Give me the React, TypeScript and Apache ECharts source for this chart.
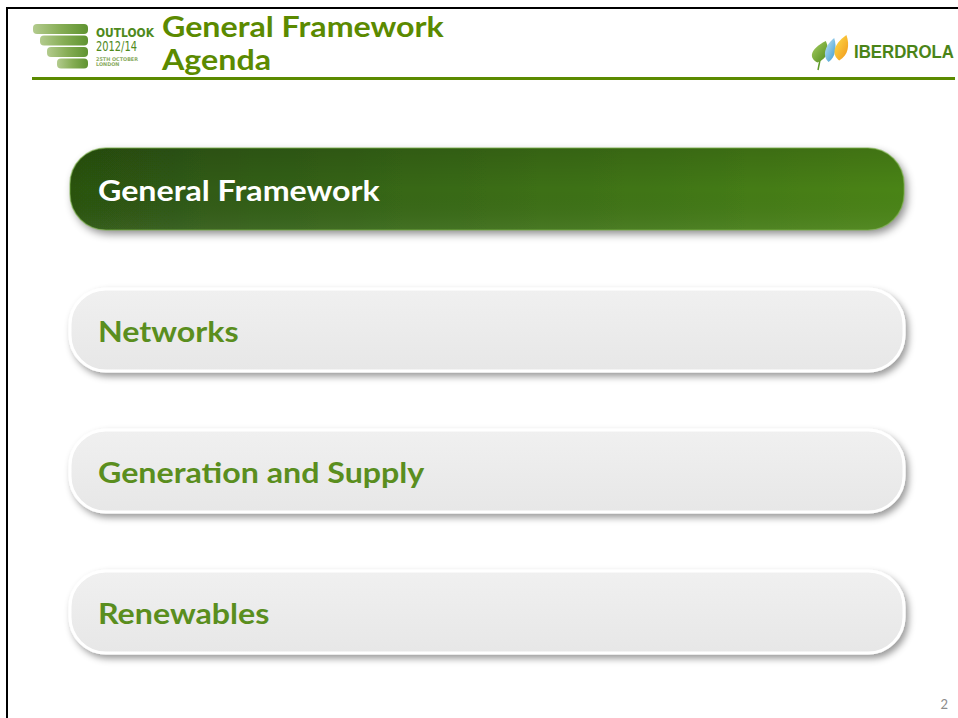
import React, { useEffect, useRef } from "react";
import * as echarts from "echarts";

const titleLines = ["General Framework", "Agenda"];
const agendaItems = ["General Framework", "Networks", "Generation and Supply", "Renewables"];
const activeIndex = 0;
const brandName = "IBERDROLA";
const eventLines = ["OUTLOOK", "2012/14"];
const eventDetails = ["25TH OCTOBER", "LONDON"];
const pageNumber = "2";

const W = 958;
const H = 718;
const MAIN_FONT = "Lato";
const NARROW = "'DejaVu Sans Condensed', 'Liberation Sans', sans-serif";

function measure(text: string, font: string): number {
  const ctx = document.createElement("canvas").getContext("2d");
  if (!ctx) return 1;
  ctx.font = font;
  return ctx.measureText(text).width || 1;
}

function fitScale(text: string, weight: string, size: number, family: string, target: number) {
  return target / measure(text, `${weight} ${size}px ${family}`);
}

echarts.graphic.registerShape(
  "leaf",
  echarts.graphic.extendPath("M8,30 C0,24 0,12 16,0 C20,12 18,24 8,30 Z", {})
);

function buildGraphics() {
  const els: any[] = [];
  const titleSize = 29;
  const mainScale = fitScale(titleLines[0], "bold", titleSize, MAIN_FONT, 282);

  // slide frame
  els.push({ type: "rect", shape: { x: 6, y: 7, width: W - 6, height: 2 }, style: { fill: "#000" } });
  els.push({ type: "rect", shape: { x: 6, y: 7, width: 2, height: H - 7 }, style: { fill: "#000" } });

  // header rule
  els.push({ type: "rect", shape: { x: 32, y: 77, width: 923, height: 3 }, style: { fill: "#5b8a00" } });

  // event logo stripes
  const stripes = [
    [33, 24],
    [40, 35.5],
    [47, 47],
    [57, 58.5],
  ];
  stripes.forEach(([sx, sy]) => {
    els.push({
      type: "rect",
      shape: { x: sx, y: sy, width: 88 - sx, height: 10, r: 4 },
      style: {
        fill: new echarts.graphic.LinearGradient(0, 0, 1, 0, [
          { offset: 0, color: "#b3cb8e" },
          { offset: 0.5, color: "#86ad55" },
          { offset: 1, color: "#5f9330" },
        ]),
      },
    });
  });
  els.push({
    type: "text",
    x: 96,
    y: 33,
    scaleX: fitScale(eventLines[0], "bold", 12, NARROW, 58),
    style: { text: eventLines[0], font: `bold 12px ${NARROW}`, fill: "#4f8a1c", verticalAlign: "middle" },
  });
  els.push({
    type: "text",
    x: 96,
    y: 45.5,
    scaleX: fitScale(eventLines[1], "normal", 14, NARROW, 41),
    style: { text: eventLines[1], font: `14px ${NARROW}`, fill: "#4f8a1c", verticalAlign: "middle" },
  });
  eventDetails.forEach((t, i) => {
    els.push({
      type: "text",
      x: 96,
      y: 59.5 + i * 5,
      scaleX: fitScale(eventDetails[0], "bold", 5, NARROW, 42),
      style: { text: t, font: `bold 5px ${NARROW}`, fill: "#8aab62", verticalAlign: "middle" },
    });
  });

  // title
  titleLines.forEach((t, i) => {
    els.push({
      type: "text",
      x: 162,
      y: 26 + i * 33,
      scaleX: mainScale,
      style: { text: t, font: `bold ${titleSize}px ${MAIN_FONT}`, fill: "#5b8a00", verticalAlign: "middle" },
    });
  });

  // brand logo
  els.push({ type: "line", shape: { x1: 820, y1: 60, x2: 818, y2: 70 }, style: { stroke: "#5f9a2a", lineWidth: 1.5 } });
  els.push({
    type: "leaf",
    x: 809,
    y: 41,
    scaleX: 1.05,
    scaleY: 0.72,
    style: {
      fill: new echarts.graphic.LinearGradient(0, 0, 1, 1, [
        { offset: 0, color: "#a9d063" },
        { offset: 1, color: "#4f8a1c" },
      ]),
    },
  });
  els.push({
    type: "leaf",
    x: 823,
    y: 38,
    scaleX: 0.7,
    scaleY: 0.8,
    style: {
      fill: new echarts.graphic.LinearGradient(0, 0, 1, 1, [
        { offset: 0, color: "#c4e6f6" },
        { offset: 1, color: "#3a9ad0" },
      ]),
    },
  });
  els.push({
    type: "leaf",
    x: 832,
    y: 35,
    scaleX: 0.9,
    scaleY: 0.85,
    style: {
      fill: new echarts.graphic.LinearGradient(0, 0, 1, 1, [
        { offset: 0, color: "#ffe04a" },
        { offset: 1, color: "#f0961a" },
      ]),
    },
  });
  els.push({
    type: "text",
    x: 854,
    y: 52,
    scaleX: fitScale(brandName, "bold", 18, "Liberation Sans", 100),
    style: { text: brandName, font: "bold 18px 'Liberation Sans'", fill: "#4a8418", verticalAlign: "middle" },
  });

  // agenda pills
  const px = 70;
  const pw = 834;
  const ph = 82;
  const r = 36;
  agendaItems.forEach((item, i) => {
    const py = 148 + i * 141;
    const active = i === activeIndex;
    if (active) {
      els.push({
        type: "rect",
        shape: { x: px, y: py, width: pw, height: ph, r },
        style: {
          fill: new echarts.graphic.LinearGradient(0, 0, 1, 0, [
            { offset: 0, color: "#2b5311" },
            { offset: 0.5, color: "#3a6c15" },
            { offset: 1, color: "#4a8418" },
          ]),
          shadowBlur: 8,
          shadowColor: "rgba(0,0,0,0.45)",
          shadowOffsetX: 3,
          shadowOffsetY: 4,
        },
      });
      els.push({
        type: "rect",
        shape: { x: px, y: py, width: pw, height: ph, r },
        style: {
          fill: new echarts.graphic.LinearGradient(0, 0, 0, 1, [
            { offset: 0, color: "rgba(0,0,0,0.12)" },
            { offset: 0.5, color: "rgba(0,0,0,0)" },
            { offset: 1, color: "rgba(255,255,255,0.06)" },
          ]),
          stroke: "rgba(120,175,70,0.55)",
          lineWidth: 1.5,
        },
      });
    } else {
      els.push({
        type: "rect",
        shape: { x: px, y: py, width: pw, height: ph, r },
        style: {
          fill: new echarts.graphic.LinearGradient(0, 0, 0, 1, [
            { offset: 0, color: "#f0f0f0" },
            { offset: 1, color: "#e7e7e7" },
          ]),
          stroke: "#ffffff",
          lineWidth: 3,
          shadowBlur: 7,
          shadowColor: "rgba(0,0,0,0.4)",
          shadowOffsetX: 3,
          shadowOffsetY: 4,
        },
      });
    }
    els.push({
      type: "text",
      x: 98,
      y: py + 42,
      scaleX: mainScale,
      style: {
        text: item,
        font: `bold ${titleSize}px ${MAIN_FONT}`,
        fill: active ? "#ffffff" : "#5a8e1e",
        verticalAlign: "middle",
      },
    });
  });

  // page number
  els.push({
    type: "text",
    x: 948,
    y: 704,
    style: { text: pageNumber, font: `13px ${MAIN_FONT}`, fill: "#8c8c8c", align: "right", verticalAlign: "middle" },
  });

  return els;
}

export default function App() {
  const ref = useRef<HTMLDivElement>(null);
  useEffect(() => {
    if (!ref.current) return;
    const chart = echarts.init(ref.current, undefined, { renderer: "svg", width: W, height: H });
    chart.setOption({
      animation: false,
      backgroundColor: "#ffffff",
      graphic: { elements: buildGraphics() },
    });
    return () => chart.dispose();
  }, []);
  return (
    <div
      ref={ref}
      style={{ position: "fixed", left: 0, top: 0, width: W, height: H, background: "#fff" }}
    />
  );
}
